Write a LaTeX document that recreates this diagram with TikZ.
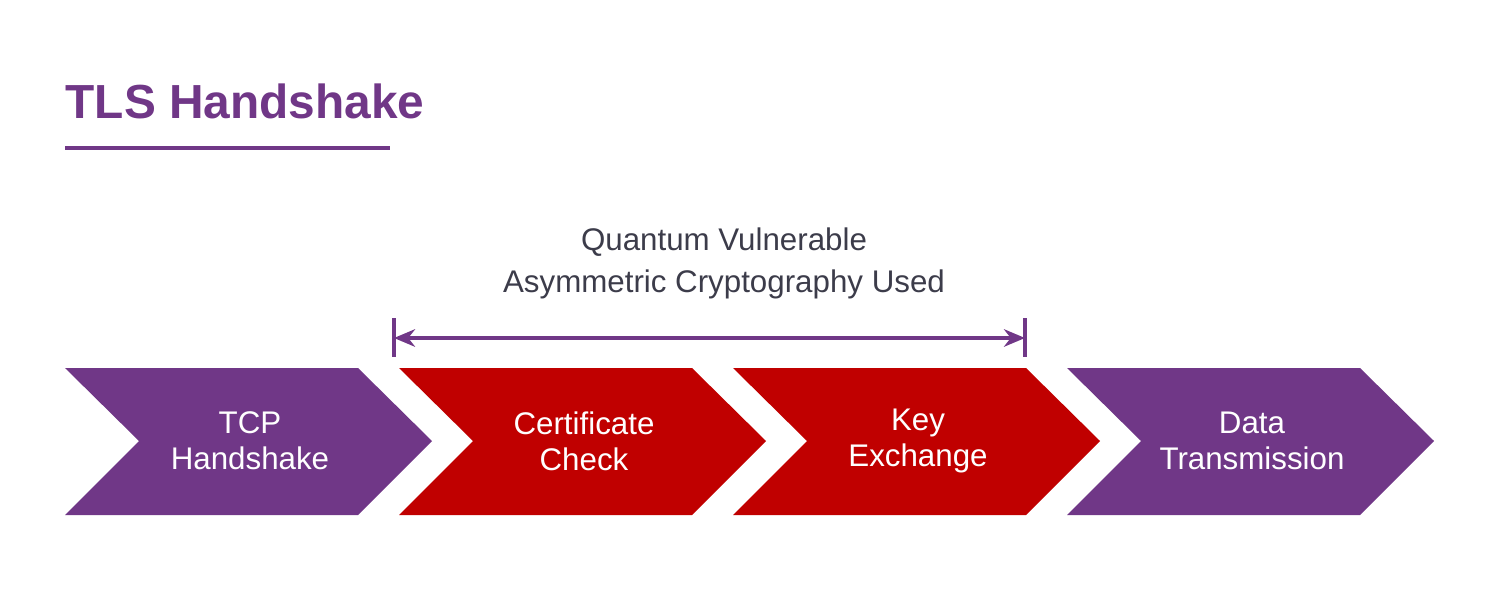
\documentclass[tikz,border=0pt]{standalone}
\usepackage{fontspec}
\setmainfont{Liberation Sans}
\usetikzlibrary{arrows.meta}
\definecolor{tlspurple}{HTML}{703787}
\definecolor{tlsred}{HTML}{C00000}
\definecolor{tlsgrey}{HTML}{3C3C4A}
\tikzset{
  step/.style={fill=#1,draw=none},
  steplabel/.style={text=white,align=center,font=\fontsize{8.9pt}{10.2pt}\selectfont},
}
\begin{document}
\begin{tikzpicture}[x=0.01cm,y=-0.01cm]
    \useasboundingbox (0,0) rectangle (1500,606);
    % title
    \node[anchor=base west,inner sep=0,text=tlspurple,font=\bfseries\fontsize{13.6pt}{15pt}\selectfont] (title) at (65,118) {TLS Handshake};
    \draw[tlspurple,line width=1.2pt] (65,148) -- (390,148);
    % chevrons
    \foreach \x/\c/\t [count=\i] in {65/tlspurple/{TCP\\Handshake},
                                    399/tlsred/{Certificate\\Check},
                                    733/tlsred/{Key\\Exchange},
                                    1067/tlspurple/{Data\\Transmission}}{
      \fill[step=\c] (\x,368) -- ++(293,0) -- ++(74,73) -- ++(-74,74) -- ++(-293,0) -- ++(74,-74) -- cycle;
      \node[steplabel] (step\i) at (\x+185,441) {\t};
    }
    % bracket
    \coordinate (bl) at (394,338);
    \coordinate (br) at (1025,338);
    \draw[tlspurple,line width=0.9pt] (394,318) -- (394,357);
    \draw[tlspurple,line width=0.9pt] (1025,318) -- (1025,357);
    \draw[tlspurple,line width=0.9pt,{Stealth[length=6pt,width=5pt]}-{Stealth[length=6pt,width=5pt]}] (bl) -- (br);
    \node[text=tlsgrey,align=center,font=\fontsize{8.9pt}{11.9pt}\selectfont] (qlabel) at (724,263) {Quantum Vulnerable\\Asymmetric Cryptography Used};
\end{tikzpicture}
\end{document}
